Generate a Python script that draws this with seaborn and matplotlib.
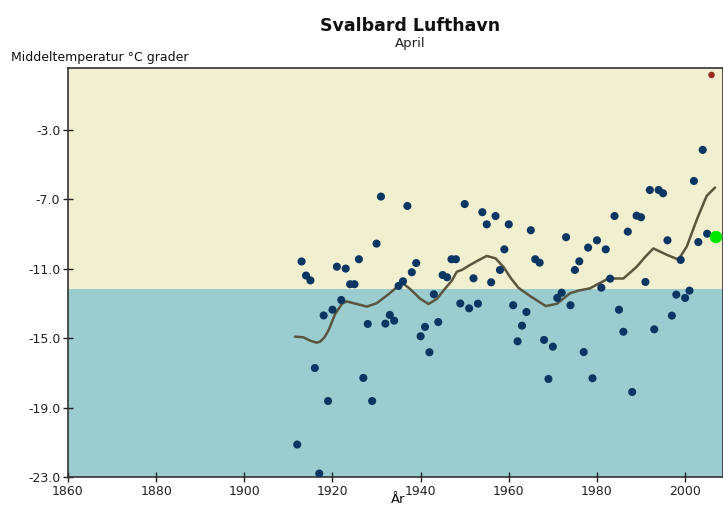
import numpy as np
import pandas as pd
import seaborn as sns
import matplotlib.pyplot as plt

# April mean temperature, Svalbard Lufthavn
years = list(range(1912, 2006))
temps = [
    -21.13, -10.58, -11.39, -11.67, -16.72, -22.80, -13.69, -18.62, -13.36, -10.88,
    -12.80, -10.99, -11.89, -11.89, -10.45, -17.29, -14.18, -18.62, -9.55, -6.84,
    -14.16, -13.66, -13.99, -11.99, -11.72, -7.38, -11.20, -10.67, -14.89, -14.35,
    -15.81, -12.47, -14.07, -11.36, -11.49, -10.45, -10.45, -13.00, -7.27, -13.28,
    -11.55, -13.01, -7.74, -8.44, -11.78, -7.96, -11.07, -9.88, -8.44, -13.10,
    -15.18, -14.28, -13.49, -8.78, -10.45, -10.65, -15.10, -17.35, -15.49, -12.68,
    -12.38, -9.18, -13.10, -11.07, -10.57, -15.80, -9.78, -17.31, -9.36, -12.09,
    -9.88, -11.57, -7.96, -13.36, -14.63, -8.86, -18.10, -7.94, -8.03, -11.76,
    -6.46, -14.49, -6.46, -6.65, -9.36, -13.70, -12.49, -10.49, -12.68, -12.26,
    -5.94, -9.46, -4.15, -8.98,
]

# record year (red) and current year (green)
record_year, record_temp = [2006], [0.17]
current_year, current_temp = [2007], [-9.17]

# smoothed trend curve, read at points along the line
trend_years = [1911.5, 1913.4, 1915.0, 1916.4, 1917.2, 1918.2, 1919.1, 1920.6, 1922.1,
               1923.2, 1925.5, 1927.8, 1930.0, 1932.3, 1934.6, 1936.1, 1937.6, 1939.9,
               1941.8, 1943.7, 1945.5, 1947.1, 1948.2, 1949.5, 1951.2, 1953.2, 1955.0,
               1957.0, 1958.8, 1960.5, 1962.2, 1965.0, 1968.4, 1970.9, 1973.9, 1976.0,
               1978.4, 1982.6, 1986.0, 1989.0, 1991.0, 1992.8, 1995.9, 1998.5, 2000.4,
               2002.7, 2004.9, 2006.8]
trend_temps = [-14.91, -14.95, -15.15, -15.26, -15.20, -14.95, -14.55, -13.61, -13.03,
               -12.88, -13.03, -13.18, -12.99, -12.55, -12.07, -11.87, -12.16, -12.73,
               -13.03, -12.73, -12.16, -11.68, -11.17, -11.05, -10.78, -10.50, -10.26,
               -10.40, -10.90, -11.55, -12.10, -12.60, -13.15, -13.02, -12.41, -12.25,
               -12.13, -11.56, -11.56, -10.89, -10.30, -9.83, -10.20, -10.47, -9.71,
               -8.14, -6.80, -6.32]

mean_temp = -12.16

df = pd.DataFrame({"year": years, "temp": temps})
trend = pd.DataFrame({"year": trend_years, "temp": trend_temps})

sns.set_style("ticks")
plt.rcParams["font.family"] = ["DejaVu Sans"]
plt.rcParams["axes.unicode_minus"] = False

fig = plt.figure(figsize=(7.23, 5.07), dpi=100)
ax = fig.add_axes([68 / 723, 1 - 477 / 507, 1 - 68 / 723, (477 - 68) / 507])

ax.set_xlim(1860, 2008.6)
ax.set_ylim(-23, 0.57)

# background bands above / below the mean
ax.axhspan(mean_temp, 0.57, color="#F0EFCF", zorder=0, lw=0)
ax.axhspan(-23, mean_temp, color="#9BCDD0", zorder=0, lw=0)

sns.lineplot(data=trend, x="year", y="temp", ax=ax, color="#5B5540", lw=1.8,
             zorder=2, sort=False)
sns.scatterplot(data=df, x="year", y="temp", ax=ax, color="#0B3563", s=34,
                edgecolor="none", zorder=3)
sns.scatterplot(x=record_year, y=record_temp, ax=ax, color="#9A2A1E", s=22,
                edgecolor="none", zorder=3)
sns.scatterplot(x=current_year, y=current_temp, ax=ax, color="#00E600", s=80,
                edgecolor="none", zorder=4)

ax.set_xticks(range(1860, 2001, 20))
ax.set_yticks([-3, -7, -11, -15, -19, -23])
ax.set_yticklabels([f"{v:.1f}" for v in [-3, -7, -11, -15, -19, -23]])
ax.tick_params(direction="inout", length=7, width=1, labelsize=9, colors="#222222",
               pad=2)
ax.set_xlabel("")
ax.set_ylabel("")
for sp in ax.spines.values():
    sp.set_color("#333333")
    sp.set_linewidth(1.2)

fig.text(410 / 723, 1 - 26 / 507, "Svalbard Lufthavn", ha="center", va="center",
         fontsize=12.5, fontweight="bold", color="#111111")
fig.text(410 / 723, 1 - 44 / 507, "April", ha="center", va="center",
         fontsize=9.5, color="#222222")
fig.text(188 / 723, 1 - 58 / 507, "Middeltemperatur °C grader", ha="right",
         va="center", fontsize=9, color="#111111")
fig.text(398 / 723, 1 - 493 / 507, "År", ha="center", va="top", fontsize=9.5,
         color="#111111")

fig.savefig("out.png", dpi=100)
